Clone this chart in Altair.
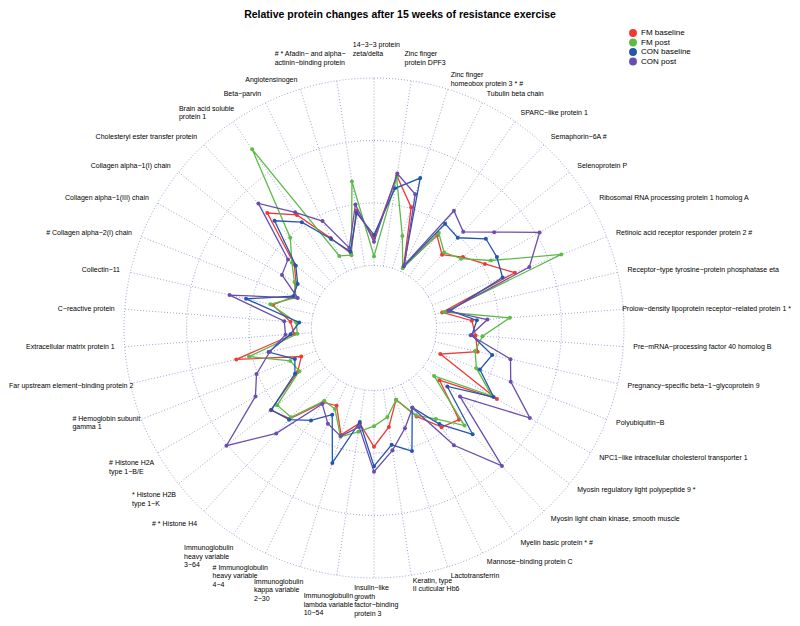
import math
import altair as alt
import pandas as pd

TITLE = "Relative protein changes after 15 weeks of resistance exercise"

# categories, clockwise from the top spoke
categories = [
    "14−3−3 protein\nzeta/delta",
    "Zinc finger\nprotein DPF3",
    "Zinc finger\nhomeobox protein 3 * #",
    "Tubulin beta chain",
    "SPARC−like protein 1",
    "Semaphorin−6A #",
    "Selenoprotein P",
    "Ribosomal RNA processing protein 1 homolog A",
    "Retinoic acid receptor responder protein 2 #",
    "Receptor−type tyrosine−protein phosphatase eta",
    "Prolow−density lipoprotein receptor−related protein 1 *",
    "Pre−mRNA−processing factor 40 homolog B",
    "Pregnancy−specific beta−1−glycoprotein 9",
    "Polyubiquitin−B",
    "NPC1−like intracellular cholesterol transporter 1",
    "Myosin regulatory light polypeptide 9 *",
    "Myosin light chain kinase, smooth muscle",
    "Myelin basic protein * #",
    "Mannose−binding protein C",
    "Lactotransferrin",
    "Keratin, type\nII cuticular Hb6",
    "Insulin−like\ngrowth\nfactor−binding\nprotein 3",
    "Immunoglobulin\nlambda variable\n10−54",
    "Immunoglobulin\nkappa variable\n2−30",
    "# Immunoglobulin\nheavy variable\n4−4",
    "Immunoglobulin\nheavy variable\n3−64",
    "# * Histone H4",
    "* Histone H2B\ntype 1−K",
    "# Histone H2A\ntype 1−B/E",
    "# Hemoglobin subunit\ngamma 1",
    "Far upstream element−binding protein 2",
    "Extracellular matrix protein 1",
    "C−reactive protein",
    "Collectin−11",
    "# Collagen alpha−2(I) chain",
    "Collagen alpha−1(III) chain",
    "Collagen alpha−1(I) chain",
    "Cholesteryl ester transfer protein",
    "Brain acid soluble\nprotein 1",
    "Beta−parvin",
    "Angiotensinogen",
    "# * Afadin− and alpha−\nactinin−binding protein",
]

series_names = ["FM baseline", "FM post", "CON baseline", "CON post"]
series_colors = ["#EE3A35", "#5CBB47", "#2457AC", "#6A4DAE"]

# values: 0 = inner circle, 3 = outer circle
fm_baseline = [0.44, 1.46, 1.02, 0.09, 0.79, 0.60, 0.82, 1.05, 1.42, 0.12,
               0.57, 0.63, 0.70, 0.14, 1.27, 0.34, 1.00, 0.92, 0.57, 0.20,
               0.60, 0.90, 0.54, 0.79, 0.38, 0.44, 0.98, 1.11, 0.41, 0.25,
               1.26, 0.28, 0.34, 0.66, 0.38, 0.44, 0.63, 1.51, 1.19, 0.60,
               0.25, 0.90]
fm_post = [0.15, 1.43, 0.54, 0.06, 0.84, 0.65, 0.78, 1.16, 2.22, 0.15,
           1.18, 0.74, 0.66, 0.76, 1.18, 0.23, 1.13, 0.76, 0.55, 0.20,
           0.44, 0.57, 0.68, 0.82, 0.44, 0.41, 0.95, 0.98, 0.38, 0.44,
           1.05, 0.23, 0.25, 0.70, 0.34, 0.47, 0.68, 0.97, 2.46, 0.28,
           0.22, 1.37]
con_baseline = [0.49, 1.26, 1.51, 0.10, 1.02, 0.97, 1.29, 1.27, 1.21, 0.25,
                0.65, 0.57, 0.94, 0.82, 1.21, 0.50, 1.32, 0.86, 0.41, 1.06,
                0.89, 1.21, 0.52, 1.26, 0.54, 0.79, 1.00, 1.10, 0.46, 0.36,
                0.73, 0.34, 0.20, 1.10, 0.39, 0.41, 0.60, 1.34, 1.05, 0.58,
                0.28, 0.86]
con_post = [0.38, 1.50, 1.24, 0.12, 1.27, 1.10, 1.46, 2.06, 1.67, 0.22,
            0.82, 0.55, 1.24, 1.35, 1.88, 0.76, 2.01, 1.27, 0.42, 0.68,
            0.98, 1.30, 0.60, 0.81, 0.70, 0.47, 1.30, 2.02, 1.19, 1.02,
            0.71, 0.42, 0.44, 1.37, 0.31, 0.70, 0.76, 1.72, 1.24, 0.90,
            0.34, 1.00]

grid_levels = [0, 1, 2, 3]

# ---------------- layout ----------------
W, H = 784, 610
PX = 62.5            # pixels per grid unit
CX, CY = 366, 320    # centre of the radar in chart pixels
HOLE = 1.0           # inner hole radius in grid units
N = len(categories)
LABEL_FONT = "Liberation Sans"

xs = alt.Scale(domain=[-CX / PX, (W - CX) / PX], nice=False, zero=False)
ys = alt.Scale(domain=[-(H - CY) / PX, CY / PX], nice=False, zero=False)

AW = {' ': 278, '#': 556, '*': 389, ',': 278, '−': 584, '-': 333, '(': 333, ')': 333,
      '/': 278, ':': 278, 'I': 278, 'J': 500, 'M': 833, 'W': 944, 'F': 611, 'T': 611,
      'L': 556, 'Z': 611, 'C': 722, 'D': 722, 'H': 722, 'N': 722, 'R': 722, 'U': 722,
      'G': 778, 'O': 778, 'Q': 778,
      'a': 556, 'b': 556, 'c': 500, 'd': 556, 'e': 556, 'f': 278, 'g': 556, 'h': 556,
      'i': 222, 'j': 222, 'k': 500, 'l': 222, 'm': 833, 'n': 556, 'o': 556, 'p': 556,
      'q': 556, 'r': 333, 's': 500, 't': 278, 'u': 556, 'v': 500, 'w': 722, 'x': 500,
      'y': 500, 'z': 500}


def text_w(s, size):
    return sum(AW.get(ch, 667 if ch.isupper() else 556) for ch in s) * size / 1000.0


LFS = 7.0
LLH = 8.5
lab_rows = []
for k, lab in enumerate(categories):
    th = 2 * math.pi * k / N
    s, c = math.sin(th), math.cos(th)
    parts = lab.split("\n")
    n = len(parts)
    w = max(text_w(p, LFS) for p in parts)
    h = n * LLH
    if s > 0.2:
        f = 0.0
    elif s < -0.2:
        f = 1.0 if n == 1 else 0.88
    elif s > 0.01:
        f = 0.2 if c > 0 else 0.0
    elif s < -0.01:
        f = 0.85 if c > 0 else 0.64
    else:
        f = 0.45
    ax, ay = 260 * s, 260 * c
    if c > 0.97:
        ay += 4 + h / 2 + (6 if c > 0.999 else 0)
    elif c < -0.999:
        ay -= h / 2 - 4
    elif c < -0.97 and s < 0:
        ay -= h / 2 + 7
    elif c < -0.45 and s < 0:
        ay -= h / 2 + 1
    # keep every label inside the canvas
    left = ax - f * w
    left = max(left, -CX + 1)
    left = min(left, (W - CX) - 1 - w)
    # first line position (Vega anchors the first line of multi-line text)
    ay_first = ay + (n - 1) * LLH / 2
    lab_rows.append({"label": lab, "lx": left / PX, "ly": ay_first / PX})
labels_df = pd.DataFrame(lab_rows)

# ---------------- data tables ----------------
rows = []
for name, vals in zip(series_names, [fm_baseline, fm_post, con_baseline, con_post]):
    for k, v in enumerate(vals):
        rows.append({"series": name, "k": k, "value": v})
df = pd.DataFrame(rows)

circ = pd.DataFrame([{"level": lv, "j": j} for lv in grid_levels for j in range(181)])
spokes = pd.DataFrame({"k": list(range(N))})

X = lambda f: alt.X(f, type="quantitative", scale=xs, axis=None)
Y = lambda f: alt.Y(f, type="quantitative", scale=ys, axis=None)

GRID = "#8C8CC6"

circles = alt.Chart(circ).transform_calculate(
    ang="datum.j * 2 * PI / 180", rr=f"datum.level + {HOLE}"
).transform_calculate(
    px="datum.rr * sin(datum.ang)", py="datum.rr * cos(datum.ang)"
).mark_line(color=GRID, strokeWidth=0.8, strokeDash=[1, 2]).encode(
    x=X("px"), y=Y("py"), detail="level:N", order="j:Q"
)

rmax = HOLE + max(grid_levels)
spoke_layer = alt.Chart(spokes).transform_calculate(
    ang=f"datum.k * 2 * PI / {N}"
).transform_calculate(
    x1=f"{HOLE} * sin(datum.ang)", y1=f"{HOLE} * cos(datum.ang)",
    x2=f"{rmax} * sin(datum.ang)", y2=f"{rmax} * cos(datum.ang)"
).mark_rule(color=GRID, strokeWidth=0.8, strokeDash=[1, 2]).encode(
    x=X("x1"), y=Y("y1"), x2="x2:Q", y2="y2:Q"
)

color_scale = alt.Scale(domain=series_names, range=series_colors)
legend = alt.Legend(title=None, orient="none", legendX=621, legendY=21,
                    symbolType="circle", symbolSize=62, symbolStrokeWidth=0,
                    symbolOpacity=1, labelFontSize=8, labelFont=LABEL_FONT,
                    labelColor="#000000", rowPadding=1.5, labelOffset=4, padding=0)
color_enc = alt.Color("series:N", scale=color_scale, legend=legend)

base = alt.Chart(df).transform_calculate(
    ang=f"datum.k * 2 * PI / {N}", rr=f"datum.value + {HOLE}"
).transform_calculate(
    px="datum.rr * sin(datum.ang)", py="datum.rr * cos(datum.ang)"
)

series_layers = []
for name in series_names:
    b = base.transform_filter(alt.datum.series == name)
    series_layers.append(
        b.mark_line(interpolate="linear-closed", strokeWidth=1.3).encode(
            x=X("px"), y=Y("py"), order="k:Q", color=color_enc
        )
    )
    series_layers.append(
        b.mark_circle(size=16, opacity=1).encode(
            x=X("px"), y=Y("py"), color=color_enc
        )
    )

label_layer = alt.Chart(labels_df).mark_text(
    align="left", baseline="middle", fontSize=LFS, lineHeight=LLH,
    font=LABEL_FONT, color="#000000", lineBreak="\n"
).encode(x=X("lx"), y=Y("ly"), text="label:N")

title_layer = alt.Chart(pd.DataFrame({"t": [TITLE]})).mark_text(
    align="center", baseline="top", fontSize=10.5, fontWeight="bold",
    font=LABEL_FONT, color="#000000"
).encode(x=alt.value(392), y=alt.value(2), text="t:N")

chart = alt.layer(
    circles, spoke_layer, *series_layers, label_layer, title_layer
).properties(
    width=W, height=H, padding=0, autosize=alt.AutoSizeParams(type="none")
).configure_view(stroke=None)

chart.save("out.html", embed_options={"renderer": "svg", "actions": False})
